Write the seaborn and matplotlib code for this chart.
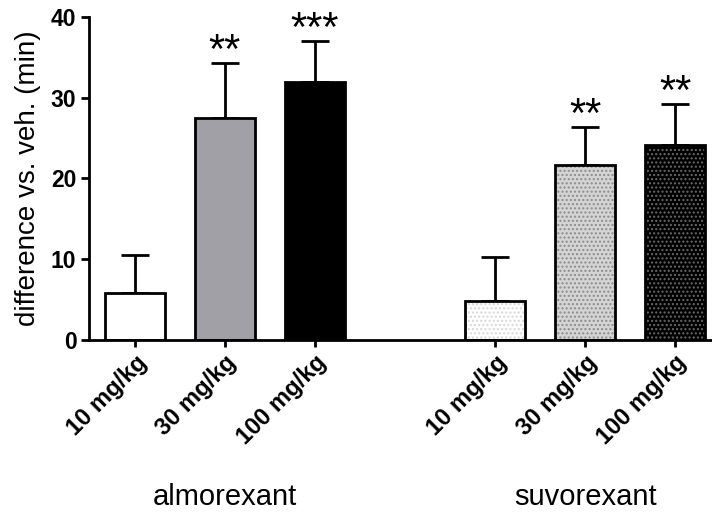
import matplotlib
matplotlib.use("Agg")
import matplotlib.pyplot as plt
import matplotlib.transforms as mtransforms
from matplotlib.patches import Rectangle
import seaborn as sns
import pandas as pd

# ---- data ----
drugs = ["almorexant", "almorexant", "almorexant", "suvorexant", "suvorexant", "suvorexant"]
doses = ["10 mg/kg", "30 mg/kg", "100 mg/kg", "10 mg/kg", "30 mg/kg", "100 mg/kg"]
positions = [0, 1, 2, 4, 5, 6]
means = [5.8, 27.5, 32.0, 4.8, 21.7, 24.2]
sems = [4.7, 6.8, 5.0, 5.5, 4.7, 5.0]
stars = ["", "**", "***", "", "**", "**"]
group_names = ["almorexant", "suvorexant"]

face_colors = ["white", "#a0a0a6", "black", "white", "#d4d4d4", "black"]
hatch_colors = [None, None, None, "#d6d6d6", "#8c8c8c", "#6a6a6a"]

sns.set_style("ticks")
plt.rcParams["font.family"] = ["Liberation Sans", "DejaVu Sans"]
plt.rcParams["hatch.linewidth"] = 1.0
plt.rcParams["text.color"] = "black"
plt.rcParams["axes.labelcolor"] = "black"
plt.rcParams["xtick.color"] = "black"
plt.rcParams["ytick.color"] = "black"

df = pd.DataFrame({"pos": positions, "mean": means,
                   "key": [f"{d} {x}" for d, x in zip(drugs, doses)]})

fig = plt.figure(figsize=(7.12, 5.15), dpi=100)
ax = fig.add_axes([0.125, 0.3398, 0.875, 0.6272])

pal = dict(zip(df["key"], face_colors))
sns.barplot(data=df, x="pos", y="mean", hue="key", hue_order=list(df["key"]),
            palette=pal, native_scale=True, width=0.67, errorbar=None,
            legend=False, ax=ax, saturation=1, edgecolor="black", linewidth=2.0,
            zorder=2)

bars = sorted([p for p in ax.patches if isinstance(p, Rectangle)], key=lambda p: p.get_x())
for p, fc, hc in zip(bars, face_colors, hatch_colors):
    p.set_facecolor(fc)
    if hc is not None:
        # hatched fill layer (hatch colour follows edgecolor), then black outline
        p.set_edgecolor(hc)
        p.set_hatch("....")
        p.set_linewidth(0)
        outline = Rectangle((p.get_x(), p.get_y()), p.get_width(), p.get_height(),
                            facecolor="none", edgecolor="black", linewidth=2.0,
                            zorder=3)
        ax.add_patch(outline)

ax.errorbar(positions, means, yerr=[[0] * len(sems), sems], fmt="none",
            ecolor="black", elinewidth=2.0, capsize=10.4, capthick=2.0, zorder=1)

for x, m, s, st in zip(positions, means, sems, stars):
    if st:
        ax.text(x, m + s, st, ha="center", va="baseline", fontsize=30, color="black")

ax.set_xlim(-0.51, 6.41)
ax.set_ylim(0, 40)
ax.set_yticks([0, 10, 20, 30, 40])
ax.set_xticks(positions)
ax.set_xticklabels(doses, rotation=45, ha="right", va="top",
                   rotation_mode="anchor", fontsize=17, fontweight="bold")
for lab in ax.get_yticklabels():
    lab.set_fontsize(16.5)
    lab.set_fontweight("bold")
ax.set_xlabel("")
ax.set_ylabel("difference vs. veh. (min)", fontsize=20, labelpad=7)

ax.tick_params(axis="both", direction="out", length=5, width=2, color="black",
               labelcolor="black", pad=3)
ax.tick_params(axis="y", length=6)
ax.tick_params(axis="x", pad=3)
for side in ["left", "bottom"]:
    ax.spines[side].set_linewidth(2)
    ax.spines[side].set_color("black")
sns.despine(ax=ax)

trans = mtransforms.blended_transform_factory(ax.transData, ax.transAxes)
ax.text(1, -0.486, group_names[0], transform=trans, ha="center", va="center", fontsize=21)
ax.text(5, -0.486, group_names[1], transform=trans, ha="center", va="center", fontsize=21)

fig.savefig("out.png", dpi=100)
